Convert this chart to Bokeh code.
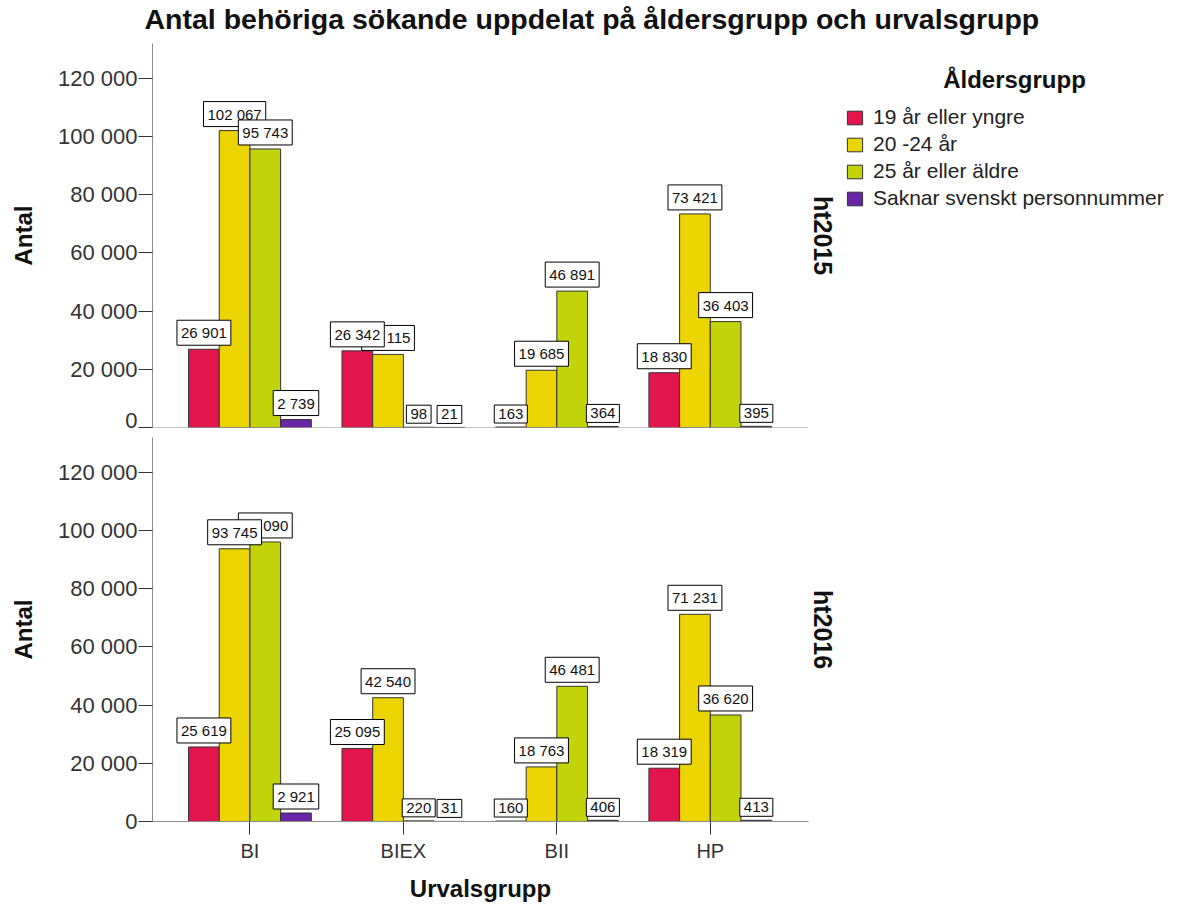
from bokeh.plotting import figure
from bokeh.models import (ColumnDataSource, Range1d, FixedTicker, LabelSet,
                          Legend, LegendItem, Span, LinearAxis, Text)
from bokeh.core.properties import value
from bokeh.layouts import column, row
from bokeh.embed import file_html
from bokeh.resources import INLINE

# ---------------- data ----------------
categories = ["BI", "BIEX", "BII", "HP"]
age_groups = ["19 år eller yngre", "20 -24 år", "25 år eller äldre", "Saknar svenskt personnummer"]
colors = ["#E2154C", "#EBD400", "#C3D30A", "#6A25A6"]

ht2015_19 = [26901, 26342, 163, 18830]
ht2015_20_24 = [102067, 25115, 19685, 73421]
ht2015_25 = [95743, 98, 46891, 36403]
ht2015_saknar = [2739, 21, 364, 395]

ht2016_19 = [25619, 25095, 160, 18319]
ht2016_20_24 = [93745, 42540, 18763, 71231]
ht2016_25 = [96090, 220, 46481, 36620]
ht2016_saknar = [2921, 31, 406, 413]

y_ticks = [0, 20000, 40000, 60000, 80000, 100000, 120000]

TITLE = "Antal behöriga sökande uppdelat på åldersgrupp och urvalsgrupp"
FONT = "Liberation Sans"
FRAME_W, FRAME_H = 656, 384
LEFT, RIGHT = 152, 30
BAR_W = 0.2
OFFS = [-0.3, -0.1, 0.1, 0.3]

TEXT_HAS_BOX = ("padding" in Text.properties()) and ("background_fill_color" in Text.properties())


def fmt(v):
    return f"{v:,}".replace(",", " ")


def make_panel(series, facet, label_order, top, bottom, show_x):
    p = figure(frame_width=FRAME_W, frame_height=FRAME_H,
               x_range=Range1d(-0.635, 3.64), y_range=Range1d(0, 132000),
               output_backend="svg", toolbar_location=None,
               min_border_left=LEFT, min_border_right=RIGHT,
               min_border_top=top, min_border_bottom=bottom)
    p.outline_line_color = None
    p.grid.visible = False
    p.background_fill_color = "white"

    renderers = []
    for j, vals in enumerate(series):
        src = ColumnDataSource(dict(x=[i + OFFS[j] for i in range(len(categories))], top=vals))
        r = p.vbar(x="x", top="top", width=BAR_W, bottom=0, source=src,
                   fill_color=colors[j], line_color="#333333", line_width=1)
        renderers.append(r)

    # value labels (boxed)
    lx, ly, lt = [], [], []
    for j in label_order:
        for i, v in enumerate(series[j]):
            lx.append(i + OFFS[j])
            ly.append(v)
            lt.append(fmt(v))
    lsrc = ColumnDataSource(dict(x=lx, y=ly, t=lt))
    if TEXT_HAS_BOX:
        p.text(x="x", y="y", text="t", source=lsrc, text_align="center",
               text_baseline="bottom", y_offset=-4, text_font=value(FONT),
               text_font_size=value("15px"), text_color="#111111",
               background_fill_color="white", border_line_color="black",
               border_line_width=1, padding=4)
    else:
        p.add_layout(LabelSet(x="x", y="y", text="t", source=lsrc, text_align="center",
                              text_baseline="bottom", y_offset=3, text_font=value(FONT),
                              text_font_size="15px", text_color="#111111",
                              background_fill_color="white", border_line_color="black",
                              border_line_width=1))

    # y axis
    yax = p.yaxis[0]
    yax.ticker = FixedTicker(ticks=y_ticks)
    yax.major_label_overrides = {t: fmt(t) for t in y_ticks}
    yax.minor_tick_line_color = None
    yax.major_tick_out = 14
    yax.major_tick_in = 0
    yax.major_label_standoff = 1
    yax.major_label_text_font = FONT
    yax.major_label_text_font_size = "22px"
    yax.major_label_text_color = "#333333"
    yax.axis_line_color = "#8c8c8c"
    yax.major_tick_line_color = "#333333"
    yax.axis_label = "Antal"
    yax.axis_label_text_font = FONT
    yax.axis_label_text_font_size = "24px"
    yax.axis_label_text_font_style = "bold"
    yax.axis_label_text_color = "#111111"
    yax.axis_label_standoff = 18

    xax = p.xaxis[0]
    if show_x:
        xax.ticker = FixedTicker(ticks=list(range(len(categories))))
        xax.major_label_overrides = {i: c for i, c in enumerate(categories)}
        xax.minor_tick_line_color = None
        xax.major_tick_out = 13
        xax.major_tick_in = 0
        xax.major_label_standoff = 5
        xax.major_label_text_font = FONT
        xax.major_label_text_font_size = "20px"
        xax.major_label_text_color = "#333333"
        xax.axis_line_color = "#8c8c8c"
        xax.major_tick_line_color = "#333333"
        xax.axis_label = "Urvalsgrupp"
        xax.axis_label_text_font = FONT
        xax.axis_label_text_font_size = "24px"
        xax.axis_label_text_font_style = "bold"
        xax.axis_label_text_color = "#111111"
        xax.axis_label_standoff = 10
    else:
        xax.visible = False
        p.add_layout(Span(location=0, dimension="width", line_color="#8c8c8c", line_width=1))

    # facet label on the right (rotated clockwise)
    fax = LinearAxis(ticker=FixedTicker(ticks=[]), axis_label=facet,
                     axis_line_color=None, major_tick_line_color=None,
                     minor_tick_line_color=None, major_tick_out=0, major_tick_in=0,
                     major_label_text_font_size="0px", major_label_standoff=0,
                     axis_label_standoff=0, axis_label_text_font=FONT,
                     axis_label_text_font_size="25px", axis_label_text_font_style="bold",
                     axis_label_text_color="#111111")
    p.add_layout(fax, "right")
    return p, renderers


s2015 = [ht2015_19, ht2015_20_24, ht2015_25, ht2015_saknar]
s2016 = [ht2016_19, ht2016_20_24, ht2016_25, ht2016_saknar]

p1, _ = make_panel(s2015, "ht2015", [1, 0, 2, 3], 8, 5, False)
p2, _ = make_panel(s2016, "ht2016", [2, 1, 0, 3], 5, 0, True)

# title strip spanning the whole width
pt = figure(frame_width=1192 - 146, frame_height=1, x_range=Range1d(0, 1), y_range=Range1d(0, 1),
            output_backend="svg", toolbar_location=None,
            min_border_left=146, min_border_right=0, min_border_top=0, min_border_bottom=0)
pt.axis.visible = False
pt.grid.visible = False
pt.outline_line_color = None
pt.title.text = TITLE
pt.title.text_font = FONT
pt.title.text_font_size = "28.5px"
pt.title.text_font_style = "bold"
pt.title.text_color = "#111111"
pt.title.align = "left"
pt.title.offset = -2
pt.title.standoff = 0

# legend panel
pl = figure(frame_width=350, frame_height=150, x_range=Range1d(10, 11), y_range=Range1d(0, 1),
            output_backend="svg", toolbar_location=None,
            min_border_top=64, min_border_left=0, min_border_right=0, min_border_bottom=0)
pl.axis.visible = False
pl.grid.visible = False
pl.outline_line_color = None
pl.title.text = "Åldersgrupp"
pl.title.align = "center"
pl.title.offset = 14
pl.title.text_font = FONT
pl.title.text_font_size = "24px"
pl.title.text_font_style = "bold"
pl.title.text_color = "#111111"
pl.title.standoff = 13

leg_rends = []
for j, vals in enumerate(s2015):
    src = ColumnDataSource(dict(x=[i + OFFS[j] for i in range(len(categories))], top=vals))
    leg_rends.append(pl.vbar(x="x", top="top", width=BAR_W, source=src,
                             fill_color=colors[j], line_color="#333333", visible=False))

legend = Legend(items=[LegendItem(label=g, renderers=[r]) for g, r in zip(age_groups, leg_rends)],
                location="top_left", padding=0, margin=6, spacing=3,
                glyph_width=19, glyph_height=17, label_standoff=9, label_height=20,
                label_text_font=FONT, label_text_font_size="21px", label_text_color="#222222",
                border_line_color=None, background_fill_alpha=0)
pl.add_layout(legend)

layout = column(pt, row(column(p1, p2, spacing=0), pl, spacing=0), spacing=0)
open("out.html", "w").write(file_html(layout, INLINE))
